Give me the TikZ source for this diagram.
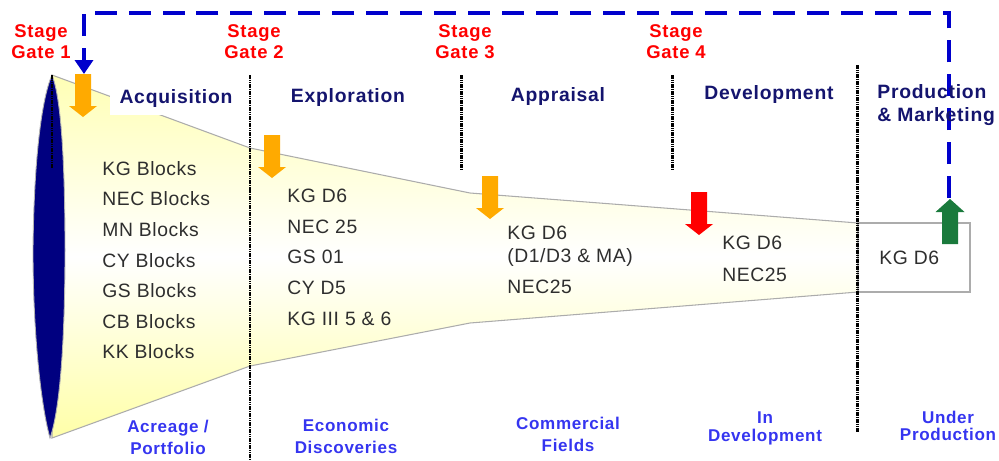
\documentclass[tikz,border=0pt]{standalone}
\usepackage{fontspec}
\setmainfont{Liberation Sans}
\newfontfamily\headfont[LetterSpace=4]{Liberation Sans}
\newfontfamily\listfont[LetterSpace=3]{Liberation Sans}
\usetikzlibrary{arrows.meta}

\definecolor{gatered}{HTML}{FF0000}
\definecolor{phasenavy}{HTML}{14146E}
\definecolor{statusblue}{HTML}{3535F0}
\definecolor{lensnavy}{HTML}{000080}
\definecolor{loopblue}{HTML}{0000CC}
\definecolor{oilorange}{HTML}{FFAA00}
\definecolor{oilred}{HTML}{FF0000}
\definecolor{prodgreen}{HTML}{1A7A3C}
\definecolor{funnelyellow}{HTML}{FFFFA8}

\tikzset{
    gatelabel/.style={text=gatered, align=center, inner sep=0pt,
        font=\headfont\bfseries\fontsize{10.5}{12}\selectfont},
    phaselabel/.style={text=phasenavy, inner sep=0pt,
        font=\headfont\bfseries\fontsize{11}{13.6}\selectfont},
    statuslabel/.style={text=statusblue, align=center, inner sep=0pt,
        font=\headfont\bfseries\fontsize{9.7}{12.5}\selectfont},
    fieldlist/.style={text=black!82, align=left, anchor=north west, inner sep=0pt,
        font=\listfont\fontsize{11}{17.4}\selectfont},
    gateline/.style={line width=1.7pt, dash pattern=on 0.9pt off 0.4pt},
    feedback/.style={loopblue, line width=2.8pt, dash pattern=on 12.5pt off 6.8pt,
        -{Triangle[width=0.36cm,length=0.28cm]}},
}

\begin{document}
\begin{tikzpicture}[x=0.02cm, y=-0.02cm]
    \useasboundingbox (0,0) rectangle (999,460);

    % funnel and production box
    \path[top color=funnelyellow!85, bottom color=funnelyellow, middle color=white,
        draw=gray!65, line width=0.6pt]
        (52,75) -- (250,148) -- (470,193) -- (858,223) -- (858,292)
        -- (470,323) -- (250,366) -- (52,438) -- cycle;
    \draw[gray!65, fill=white, line width=0.6pt] (858,223) rectangle (970,292);

    % mouth of the funnel
    \filldraw[fill=lensnavy, draw=gray!60, line width=0.5pt] (52,75)
        .. controls (60,95) and (65,150) .. (65,250)
        .. controls (65,340) and (60,410) .. (50,438)
        .. controls (42,410) and (33,340) .. (33,250)
        .. controls (34,150) and (43,95) .. (52,75);
    \draw[gateline] (52,75) -- (52,168);

    % phase borders
    \draw[gateline] (250,75) -- (250,460);
    \draw[gateline] (461,75) -- (461,170);
    \draw[gateline] (672,75) -- (672,170);
    \draw[gateline] (857,65) -- (857,432);

    % feedback loop
    \coordinate (loopstart) at (949,198);
    \coordinate (looptop) at (500,13);
    \coordinate (loopend) at (84,74);
    \draw[feedback] (loopstart) |- (looptop) -| (loopend);

    % gate arrows
    \foreach \x/\y/\c in {83/117/oilorange, 272/178/oilorange, 490/219/oilorange, 699/235/oilred}
        \fill[\c] (\x-8,\y-43) -- (\x+8,\y-43) -- (\x+8,\y-11) -- (\x+14,\y-11)
            -- (\x,\y) -- (\x-14,\y-11) -- (\x-8,\y-11) -- cycle;
    \fill[prodgreen] (942,244) -- (958,244) -- (958,212) -- (964.5,212)
        -- (950,199) -- (935.5,212) -- (942,212) -- cycle;

    % stage gates
    \node[gatelabel] (gate1) at (41,42) {Stage\\Gate 1};
    \node[gatelabel] (gate2) at (254,42) {Stage\\Gate 2};
    \node[gatelabel] (gate3) at (465,42) {Stage\\Gate 3};
    \node[gatelabel] (gate4) at (676,42) {Stage\\Gate 4};

    % phases
    \node[phaselabel, fill=white, inner xsep=0.2cm, inner ysep=0.16cm] (acq) at (176,98) {Acquisition};
    \node[phaselabel] (expl) at (348,97) {Exploration};
    \node[phaselabel] (appr) at (558,96) {Appraisal};
    \node[phaselabel] (devl) at (769,94) {Development};
    \node[phaselabel, align=left, anchor=west] (prod) at (877,105) {Production\\\& Marketing};

    % blocks and fields
    \node[fieldlist] (blocks) at (102,161) {KG Blocks\\NEC Blocks\\MN Blocks\\CY Blocks\\GS Blocks\\CB Blocks\\KK Blocks};
    \node[fieldlist] (discov) at (287,189) {KG D6\\NEC 25\\GS 01\\CY D5\\KG III 5 \& 6};
    \node[fieldlist, font=\listfont\fontsize{11}{13}\selectfont] (fields) at (507,226) {KG D6\\(D1/D3 \& MA)\\[4.5pt]NEC25};
    \node[fieldlist, font=\listfont\fontsize{11}{18}\selectfont] (devfields) at (722,236) {KG D6\\NEC25};
    \node[fieldlist, anchor=west] (prodfield) at (879,258) {KG D6};

    % status of the portfolio
    \node[statuslabel] (acreage) at (168,437) {Acreage /\\Portfolio};
    \node[statuslabel] (econ) at (346,436) {Economic\\Discoveries};
    \node[statuslabel] (comm) at (568,434) {Commercial\\Fields};
    \node[statuslabel] (indev) at (765,428) {In\\[-2.3pt]Development};
    \node[statuslabel] (underprod) at (948,426) {Under\\[-2.8pt]Production};
\end{tikzpicture}
\end{document}
